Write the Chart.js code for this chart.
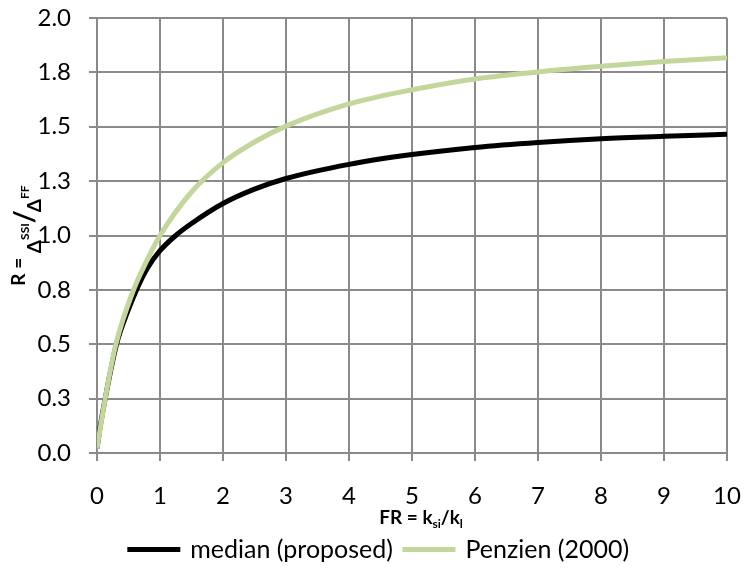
<!DOCTYPE html>
<html>
<head>
<meta charset="utf-8">
<script src="https://cdn.jsdelivr.net/npm/chart.js@4.4.1/dist/chart.umd.min.js"></script>
<style>
  html, body { margin: 0; padding: 0; background: #fff; }
  #wrap { width: 746px; height: 568px; }
</style>
</head>
<body>
<div id="wrap"><canvas id="c" width="746" height="568"></canvas></div>
<script>
// Frequency ratio FR and response ratio R for the two relations
const medianFR = [0, 0.05, 0.13, 0.31, 0.5, 0.65, 0.8, 1.0, 1.25, 1.5, 2, 2.5, 3, 4, 5, 6, 7, 8, 9, 10];
const medianR  = [0.02, 0.12, 0.25, 0.5, 0.66, 0.765, 0.85, 0.93, 1.0, 1.055, 1.147, 1.213, 1.262, 1.327, 1.372, 1.405, 1.428, 1.445, 1.456, 1.465];

const penzienFR = [0, 0.05, 0.13, 0.3, 0.58, 0.8, 1.0, 1.5, 2, 2.5, 3, 4, 5, 6, 7, 8, 9, 10];
const penzienR  = [0.02, 0.11, 0.25, 0.5, 0.75, 0.89, 1.0, 1.2, 1.335, 1.43, 1.503, 1.605, 1.67, 1.72, 1.752, 1.778, 1.8, 1.817];

const seriesNames = ['median (proposed)', 'Penzien (2000)'];
const seriesColors = ['#000000', '#c3d69b'];

const xTickValues = [0, 1, 2, 3, 4, 5, 6, 7, 8, 9, 10];
const yTickValues = [0, 0.25, 0.5, 0.75, 1.0, 1.25, 1.5, 1.75, 2.0];

const FONT = 'Lato, "Open Sans", sans-serif';
const GRID = '#8a8a8a';

function pts(xs, ys) { return xs.map((x, i) => ({ x: x, y: ys[i] })); }

// Draws a run of text pieces; each piece may be raised/lowered and sized
function drawRuns(ctx, runs, x, y) {
  let cx = x;
  for (const r of runs) {
    ctx.font = r.font;
    ctx.fillText(r.t, cx, y + (r.dy || 0));
    cx += ctx.measureText(r.t).width + (r.gap || 0);
  }
  return cx - x;
}
function runsWidth(ctx, runs) {
  let w = 0;
  for (const r of runs) { ctx.font = r.font; w += ctx.measureText(r.t).width + (r.gap || 0); }
  return w;
}

const axisTitles = {
  id: 'axisTitles',
  afterDraw(chart) {
    const ctx = chart.ctx;
    const area = chart.chartArea;
    ctx.save();
    ctx.fillStyle = '#000';
    ctx.textBaseline = 'alphabetic';

    // x-axis title: FR = k_si / k_l
    const big = 'bold 19px ' + FONT;
    const small = 'bold 12px ' + FONT;
    const xRuns = [
      { t: 'FR = k', font: big },
      { t: 'si', font: small, dy: 4 },
      { t: '/k', font: big },
      { t: 'l', font: small, dy: 4 }
    ];
    const xw = runsWidth(ctx, xRuns);
    drawRuns(ctx, xRuns, 421 - xw / 2, 524);

    // y-axis title: R = Δ^SSI / Δ^FF, rotated
    const yRuns = [
      { t: 'R = ', font: big },
      { t: 'Δ', font: big, dy: 16 },
      { t: 'SSI', font: small, dy: 4 },
      { t: '/', font: 'bold 28px ' + FONT, dy: 9, gap: -2 },
      { t: 'Δ', font: big, dy: 16 },
      { t: 'FF', font: small, dy: 4 }
    ];
    const yw = runsWidth(ctx, yRuns);
    const cy = (area.top + area.bottom) / 2;
    ctx.translate(25, cy);
    ctx.rotate(-Math.PI / 2);
    drawRuns(ctx, yRuns, -yw / 2, 0);
    ctx.restore();
  }
};

new Chart(document.getElementById('c'), {
  type: 'line',
  data: {
    datasets: [
      {
        label: seriesNames[0],
        data: pts(medianFR, medianR),
        borderColor: seriesColors[0],
        backgroundColor: seriesColors[0],
        borderWidth: 5,
        pointRadius: 0,
        cubicInterpolationMode: 'monotone',
        fill: false,
        order: 2
      },
      {
        label: seriesNames[1],
        data: pts(penzienFR, penzienR),
        borderColor: seriesColors[1],
        backgroundColor: seriesColors[1],
        borderWidth: 5,
        pointRadius: 0,
        cubicInterpolationMode: 'monotone',
        fill: false,
        order: 1
      }
    ]
  },
  plugins: [axisTitles],
  options: {
    responsive: false,
    animation: false,
    layout: { padding: { top: 18, right: 19, left: 32, bottom: -4 } },
    plugins: {
      tooltip: { enabled: false },
      legend: {
        position: 'bottom',
        labels: {
          boxWidth: 48,
          boxHeight: 0.01,
          padding: 12,
          color: '#000',
          font: { family: FONT, size: 25 },
          sort: (a, b) => a.datasetIndex - b.datasetIndex
        }
      }
    },
    scales: {
      x: {
        type: 'linear',
        min: 0,
        max: 10,
        afterBuildTicks(s) { s.ticks = xTickValues.map(v => ({ value: v })); },
        afterFit(s) { s.height = 72; s.paddingLeft = 0; s.paddingRight = 0; },
        grid: { color: GRID, lineWidth: 2, tickLength: 8, drawTicks: true },
        border: { color: GRID, width: 2 },
        ticks: {
          color: '#000',
          font: { family: FONT, size: 24 },
          padding: 21,
          maxRotation: 0,
          callback: v => String(v)
        }
      },
      y: {
        type: 'linear',
        min: 0,
        max: 2,
        afterBuildTicks(s) { s.ticks = yTickValues.map(v => ({ value: v })); },
        afterFit(s) { s.width = 65; s.paddingTop = 0; s.paddingBottom = 0; },
        grid: { color: GRID, lineWidth: 2, tickLength: 8, drawTicks: true },
        border: { color: GRID, width: 2 },
        ticks: {
          color: '#000',
          font: { family: FONT, size: 24 },
          padding: 18,
          callback: v => Number(v).toFixed(1)
        }
      }
    }
  }
});
</script>
</body>
</html>
